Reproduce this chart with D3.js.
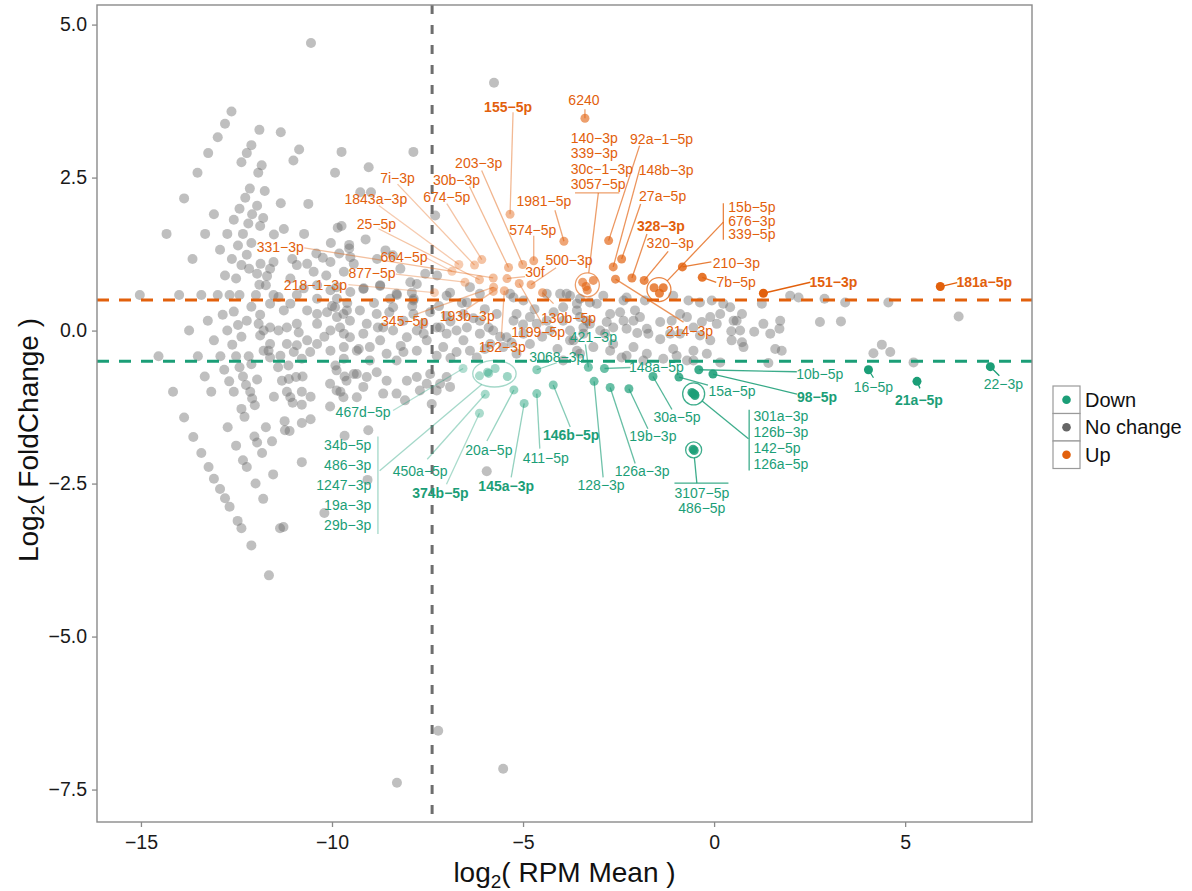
<!DOCTYPE html>
<html>
<head>
<meta charset="utf-8">
<script src="https://cdn.jsdelivr.net/npm/d3@7"></script>
<style>
  html, body { margin: 0; padding: 0; background: #fff; }
  text { font-family: "Liberation Sans", Arial, Helvetica, sans-serif; }
</style>
</head>
<body>
<svg id="chart" width="1192" height="891"></svg>
<script>
// ---- data ----
const xTicks = [-15, -10, -5, 0, 5]
const yTicks = [5, 2.5, 0, -2.5, -5, -7.5]
const foldCut = 0.5        // +/- log2 fold change threshold
const meanCut = -7.38      // log2 RPM mean cut-off
const legendLabels = ['Down', 'No change', 'Up']

// [name, log2 RPM mean, log2 fold change]
const upMiRNA = [
  ['6240', -3.38, 3.47], ['155-5p', -5.34, 1.90], ['1981-5p', -3.93, 1.46], ['574-5p', -4.72, 1.14],
  ['500-3p', -4.79, 0.75], ['30f', -5.42, 0.85], ['203-3p', -5.01, 1.08], ['30b-3p', -5.38, 1.03],
  ['674-5p', -6.08, 1.16], ['7i-3p', -6.27, 1.07], ['1843a-3p', -6.68, 1.08], ['664-5p', -6.86, 0.97],
  ['25-5p', -6.14, 0.83], ['877-5p', -6.52, 0.79], ['331-3p', -5.78, 0.86], ['345-5p', -5.77, 0.71],
  ['193b-3p', -5.78, 0.64], ['152-3p', -5.49, 0.65], ['218-1-3p', -7.32, 0.62], ['1199-5p', -5.10, 0.77],
  ['130b-5p', -4.49, 0.62],
  ['140-3p', -3.44, 0.79], ['339-3p', -3.16, 0.82], ['30c-1-3p', -3.35, 0.72], ['3057-5p', -3.32, 0.66],
  ['92a-1-5p', -2.76, 1.47], ['148b-3p', -2.64, 1.04], ['27a-5p', -2.42, 1.17], ['328-3p', -2.15, 0.86],
  ['320-3p', -1.83, 0.82], ['214-3p', -2.58, 0.84],
  ['15b-5p', -1.57, 0.70], ['676-3p', -1.33, 0.70], ['339-5p', -1.43, 0.61],
  ['210-3p', -0.83, 1.04], ['7b-5p', -0.31, 0.87], ['151-3p', 1.29, 0.61], ['181a-5p', 5.92, 0.72]
]

const downMiRNA = [
  ['467d-5p', -6.57, -0.62],
  ['34b-5p', -6.14, -0.74], ['486-3p', -5.93, -0.68], ['1247-3p', -5.73, -0.62], ['19a-3p', -5.41, -0.75], ['29b-3p', -5.90, -0.70],
  ['450a-5p', -5.99, -1.04], ['374b-5p', -6.14, -1.35], ['20a-5p', -5.24, -0.97], ['145a-3p', -4.97, -1.19],
  ['411-5p', -4.64, -1.03], ['146b-5p', -4.21, -0.89], ['3068-3p', -4.64, -0.64], ['421-3p', -3.29, -0.60],
  ['148a-5p', -2.87, -0.62], ['128-3p', -3.14, -0.83], ['126a-3p', -2.72, -0.93], ['19b-3p', -2.23, -0.95],
  ['30a-5p', -1.60, -0.75], ['15a-5p', -0.92, -0.76], ['10b-5p', -0.40, -0.64], ['98-5p', -0.03, -0.71],
  ['301a-3p', -0.58, -1.01], ['126b-3p', -0.50, -1.06], ['142-5p', -0.55, -1.03], ['126a-5p', -0.51, -1.04],
  ['3107-5p', -0.55, -1.94], ['486-5p', -0.52, -1.96],
  ['16-5p', 4.04, -0.64], ['21a-5p', 5.31, -0.83], ['22-3p', 7.23, -0.59]
]

const boldNames = ['155-5p', '328-3p', '151-3p', '181a-5p', '374b-5p', '145a-3p', '146b-5p', '98-5p', '21a-5p']

// unchanged miRNAs: [log2 RPM mean, log2 fold change]
const grayPoints = [
  [-10.55, 4.70], [-12.63, 3.58], [-12.80, 3.38], [-12.99, 3.16], [-11.90, 3.28], [-11.34, 3.24], [-13.24, 2.90],
  [-12.11, 3.03], [-12.23, 2.90], [-12.37, 2.75], [-11.84, 2.70], [-11.93, 2.58], [-10.86, 2.96], [-11.01, 2.78],
  [-9.75, 2.92], [-7.87, 2.92], [-13.52, 2.58], [-9.92, 2.58], [-9.04, 2.67], [-13.87, 2.16], [-12.15, 2.32],
  [-11.76, 2.28], [-12.27, 2.17], [-11.34, 2.08], [-10.62, 2.07], [-9.26, 2.26], [-8.98, 2.26], [-11.96, 2.04],
  [-12.42, 1.99], [-13.09, 1.90], [-12.09, 1.90], [-11.80, 1.84], [-12.57, 1.81], [-12.19, 1.75], [-11.88, 1.71],
  [-7.30, 1.88], [-14.33, 1.58], [-13.32, 1.58], [-12.74, 1.58], [-12.33, 1.58], [-11.52, 1.57], [-11.26, 1.66],
  [-10.73, 1.58], [-9.85, 1.68], [-9.75, 1.71], [-9.12, 1.49], [-10.03, 1.43], [-9.55, 1.40], [-13.65, 1.17],
  [-12.93, 1.32], [-12.46, 1.39], [-12.11, 1.43], [-12.23, 1.24], [-12.62, 1.17], [-12.37, 1.07], [-11.87, 1.09],
  [-11.53, 1.12], [-11.04, 1.17], [-10.41, 1.26], [-10.24, 1.19], [-10.04, 1.12], [-9.81, 1.26], [-9.55, 1.34],
  [-9.52, 1.20], [-8.82, 1.17], [-8.60, 1.31], [-8.41, 1.23], [-12.80, 0.90], [-12.51, 0.85], [-12.17, 1.01],
  [-11.96, 0.93], [-11.70, 0.89], [-11.62, 1.01], [-10.92, 1.07], [-10.65, 1.09], [-10.48, 0.96], [-10.15, 0.90],
  [-9.69, 0.96], [-9.43, 1.09], [-8.21, 1.01], [-7.95, 0.79], [-7.56, 0.93], [-7.25, 0.90], [-11.90, 0.75],
  [-11.73, 0.74], [-11.09, 0.85], [-10.74, 0.69], [-10.39, 0.74], [-10.04, 0.66], [-9.52, 0.63], [-9.17, 0.69],
  [-8.74, 0.74], [-15.03, 0.58], [-14.00, 0.58], [-13.42, 0.58], [-12.99, 0.58], [-12.68, 0.58], [-12.42, 0.58],
  [-11.99, 0.58], [-11.53, 0.58], [-11.40, 0.55], [-10.92, 0.58], [-10.39, 0.52], [-9.87, 0.52], [-8.30, 0.58],
  [-7.86, 0.52],
  [-12.11, 0.39], [-11.88, 0.26], [-12.86, 0.26], [-12.57, 0.31], [-13.25, 0.16], [-12.23, 0.16], [-12.46, 0.09],
  [-13.74, 0.00], [-12.74, 0.00], [-12.37, -0.10], [-13.09, -0.16], [-12.61, -0.23], [-11.92, 0.11], [-11.79, 0.00],
  [-11.62, 0.05], [-11.40, 0.00], [-11.88, -0.08], [-11.18, 0.05], [-10.92, 0.11], [-10.87, -0.03], [-10.65, 0.33],
  [-10.39, 0.27], [-10.13, 0.30], [-9.87, 0.22], [-9.61, 0.33], [-11.26, 0.33], [-11.62, 0.44], [-11.09, 0.44],
  [-10.39, 0.11], [-10.04, 0.00], [-9.69, -0.05], [-10.65, -0.16], [-10.39, -0.22], [-10.04, -0.33], [-9.69, -0.27],
  [-11.62, -0.22], [-11.66, -0.33], [-11.18, -0.22], [-10.92, -0.24], [-11.00, -0.35], [-10.57, -0.35], [-11.35, -0.41],
  [-11.79, -0.33], [-14.54, -0.42], [-13.51, -0.42], [-12.92, -0.42], [-12.51, -0.42], [-12.18, -0.42], [-11.62, -0.44],
  [-10.79, -0.46], [-9.69, -0.46],
  [-12.82, -0.64], [-12.42, -0.60], [-12.11, -0.55], [-11.41, -0.60], [-11.14, -0.57], [-9.91, -0.57], [-9.43, -0.71],
  [-13.33, -0.75], [-12.33, -0.75], [-11.96, -0.80], [-12.69, -0.83], [-11.31, -0.82], [-11.13, -0.79], [-10.94, -0.76],
  [-10.77, -0.75], [-10.05, -0.87], [-9.67, -0.75], [-14.16, -1.00], [-13.16, -1.00], [-12.57, -1.00], [-12.25, -0.89],
  [-12.14, -1.00], [-11.18, -1.00], [-10.79, -1.00], [-9.78, -1.00], [-11.52, -1.08], [-11.09, -1.09], [-10.56, -1.08],
  [-12.09, -1.11], [-12.02, -1.22], [-11.03, -1.18], [-10.79, -1.21], [-10.05, -1.24], [-12.37, -1.28], [-12.29, -1.41],
  [-13.87, -1.42], [-11.24, -1.48], [-10.56, -1.45], [-10.79, -1.51], [-12.73, -1.58], [-11.73, -1.58], [-11.11, -1.64],
  [-13.63, -1.74], [-12.03, -1.73], [-11.96, -1.83], [-11.57, -1.81], [-9.67, -1.72], [-12.51, -1.88], [-13.42, -2.00],
  [-11.83, -2.00], [-12.33, -2.12], [-12.23, -2.23], [-10.79, -2.15], [-13.23, -2.23], [-11.54, -2.35], [-13.09, -2.42],
  [-12.00, -2.50], [-12.93, -2.59], [-12.80, -2.74], [-11.80, -2.75], [-12.68, -2.88], [-10.20, -2.98], [-12.47, -3.11],
  [-12.37, -3.23], [-11.36, -3.23], [-12.11, -3.51], [-11.65, -4.00],
  [-9.62, -0.82], [-9.35, -0.71], [-9.09, -0.76], [-8.83, -0.68], [-8.57, -0.82], [-8.31, -1.03], [-8.09, -1.14],
  [-7.78, -0.76], [-7.52, -0.87], [-7.39, -1.20], [-7.26, -0.98], [-7.00, -0.76], [-6.91, -0.92], [-9.05, -1.63],
  [-9.07, -2.44], [-5.95, -2.30], [-11.27, -3.21], [-11.23, -1.63],
  [-5.76, 4.05], [-7.22, -6.54], [-8.30, -7.39], [-5.52, -7.16],
  [-9.88, 0.71], [-9.18, 0.68], [-8.74, 0.73], [-8.31, 0.60], [-7.91, 0.62], [-7.78, 0.76], [-6.91, 0.62],
  [-6.39, 0.71], [-6.13, 0.60], [-5.34, 0.60], [-4.03, 0.60], [-3.77, 0.57],
  [-9.92, 0.38], [-9.70, 0.27], [-9.79, 0.05], [-9.53, 0.16], [-9.27, 0.33], [-9.09, 0.11], [-9.18, -0.05],
  [-8.83, 0.27], [-8.66, 0.05], [-8.74, -0.16], [-8.40, 0.00], [-8.13, 0.16], [-8.04, -0.11], [-7.78, 0.00],
  [-7.61, 0.11], [-7.52, -0.16], [-7.26, 0.05], [-7.00, -0.05], [-7.09, -0.27], [-6.74, 0.00], [-6.56, -0.16],
  [-6.39, -0.33], [-6.13, -0.05], [-5.86, -0.22], [-6.21, -0.44], [-5.52, -0.27], [-5.43, -0.11], [-5.17, -0.38],
  [-4.82, -0.22], [-4.64, 0.11], [-4.29, 0.00], [-3.95, 0.16], [-3.77, -0.16], [-3.42, 0.05], [-3.59, -0.33],
  [-9.35, -0.33], [-9.01, -0.27], [-8.57, -0.38], [-8.13, -0.35], [-7.78, -0.33], [-7.26, -0.41], [-6.74, -0.35],
  [-9.53, -0.11], [-9.01, -0.49], [-8.31, -0.49], [-7.87, 0.27], [-7.43, 0.30], [-7.00, 0.24], [-6.56, 0.27],
  [-8.40, 0.38], [-5.17, 0.27], [-4.82, 0.22], [-3.95, 0.38], [-3.59, 0.33],
  [-9.88, -0.65], [-9.88, -0.98], [-9.18, -0.92], [-8.04, -0.82], [-7.70, -0.98], [-7.43, -0.71], [-7.17, -0.87],
  [-8.66, -1.03], [-9.35, -1.09], [-9.70, -1.09],
  [-8.90, 0.45], [-8.50, 0.30], [-8.20, -0.25], [-7.90, 0.40], [-7.60, -0.05], [-7.20, 0.40], [-6.90, 0.15],
  [-6.60, 0.45], [-6.30, 0.20], [-6.00, 0.35], [-5.90, 0.05], [-5.60, -0.10], [-5.30, -0.20], [-5.00, 0.10],
  [-4.70, 0.35], [-4.50, -0.10], [-4.20, 0.30], [-4.10, -0.30], [-6.90, -0.45], [-6.00, -0.30], [-9.30, -0.30],
  [-8.80, 0.05], [-10.20, -0.10], [-10.00, 0.40], [-9.60, 0.45],
  [1.99, 0.57], [2.21, 0.54], [2.89, 0.52], [3.43, 0.46], [4.56, 0.46], [1.25, 0.44], [-3.86, 0.60],
  [-3.51, 0.52], [-2.90, 0.57], [-2.29, 0.54], [-1.07, 0.57], [-0.37, 0.46], [-0.06, 0.49], [0.24, 0.44],
  [6.40, 0.23], [2.77, 0.14], [3.32, 0.15], [1.73, 0.16], [1.71, 0.03], [1.29, 0.11], [1.05, -0.02],
  [1.47, -0.05], [0.73, 0.27], [0.51, 0.16], [0.45, -0.01], [0.16, 0.27], [0.07, 0.11], [-0.10, 0.22],
  [-0.32, 0.14], [-0.54, 0.05], [-0.71, 0.22], [-0.89, 0.27], [-1.11, 0.16], [-1.41, 0.14], [-1.41, -0.14],
  [-1.15, -0.05], [-1.72, -0.05], [-2.01, -0.04], [-2.29, 0.03], [-2.37, 0.16], [-2.07, 0.33], [-1.94, 0.22],
  [-2.46, 0.30], [-2.72, 0.27], [-2.81, 0.14], [-2.98, 0.00], [-3.25, 0.11], [-3.51, 0.22], [-3.77, 0.00],
  [0.73, -0.19], [0.77, -0.27], [1.60, -0.30], [1.77, -0.33], [4.17, -0.37], [4.39, -0.23], [4.61, -0.35],
  [5.22, -0.52], [1.42, -0.53], [0.16, -0.52], [-0.54, -0.49], [-0.98, -0.41], [-1.85, -0.49], [-2.29, -0.41],
  [-3.16, -0.27], [-2.72, -0.33], [-3.51, -0.38], [-3.68, -0.16], [-3.95, -0.49],
  [-2.11, 0.16], [-1.76, 0.03], [0.42, 0.38], [0.59, 0.16], [0.68, 0.00], [-0.67, 0.49], [-1.81, 0.49],
  [-2.37, 0.49], [-3.07, 0.44], [-3.33, 0.16], [-3.42, -0.05], [-2.85, -0.05], [-2.64, 0.05], [-0.89, -0.05],
  [0.46, -0.16], [-1.33, -0.46], [-0.71, -0.49], [-2.64, -0.22], [-2.11, -0.27], [-1.76, -0.38], [-1.07, -0.30],
  [-0.54, -0.33], [-0.19, -0.38], [-2.42, -0.44], [-0.37, -0.08], [-0.10, -0.16],
  [-4.38, 0.60], [-3.59, 0.44], [-3.25, 0.46], [-4.99, 0.49], [-5.25, 0.54], [-6.47, 0.46], [-7.00, 0.57],
  [-7.87, 0.49], [-8.48, 0.52], [-6.13, 0.16], [-5.69, 0.27], [-5.25, 0.16], [-4.38, 0.16], [-7.17, 0.05],
  [-6.47, 0.05], [-5.78, 0.00], [-4.99, -0.05]
]

// ---- label layout (pixel offsets from each point: text dx, dy, leader end dx, dy) ----
const labelAt = {
  '6240': [-1, -18, 0, -9], '155-5p': [-2, -107, 3, -102], '1981-5p': [-20, -40, -9, -31],
  '574-5p': [-1, -31, 0, -25], '500-3p': [38, -25, 25, -17], '30f': [28, -6, 18, -2],
  '203-3p': [-44, -101, -41, -94], '30b-3p': [-52, -87, -39, -81], '674-5p': [-35, -62, -35, -56],
  '7i-3p': [-77, -87, -77, -81], '1843a-3p': [-83, -65, -80, -59], '25-5p': [-103, -56, -101, -51],
  '664-5p': [-48, -14, -25, -13], '877-5p': [-93, -9, -69, -8], '331-3p': [-213, -31, -189, -30],
  '218-1-3p': [-119, -8, -86, -8], '345-5p': [-89, 34, -80, 28], '193b-3p': [-26, 25, -27, 18],
  '152-3p': [-2, 56, -3, 47], '1199-5p': [19, 49, 24, 42], '130b-5p': [26, 25, 11, 11],
  '92a-1-5p': [53, -102, 31, -95], '148b-3p': [53, -97, 27, -100], '27a-5p': [41, -63, 19, -55],
  '328-3p': [29, -52, 15, -44], '320-3p': [26, -37, 24, -29], '214-3p': [74, 52, 68, 43],
  '210-3p': [54, -4, 29, -5], '7b-5p': [34, 5, 14, 5], '151-3p': [70, -11, 47, -11], '181a-5p': [44, -4, 17, -4],
  '467d-5p': [-100, 44, -70, 42], '450a-5p': [-65, 77, -58, 65], '374b-5p': [-39, 80, -33, 71],
  '20a-5p': [-25, 60, -27, 51], '145a-3p': [-18, 83, -13, 74], '411-5p': [9, 64, 3, 55],
  '146b-5p': [18, 50, 17, 42], '3068-3p': [20, -13, 20, -7], '421-3p': [5, -30, -3, -23],
  '148a-5p': [52, -1, 26, -1], '128-3p': [7, 104, 9, 96], '126a-3p': [32, 84, 25, 76],
  '19b-3p': [24, 47, 19, 40], '30a-5p': [24, 41, 19, 33], '15a-5p': [53, 14, 29, 8],
  '10b-5p': [121, 4, 98, 2], '98-5p': [104, 23, 84, 20], '16-5p': [5, 17, 5, 8],
  '21a-5p': [2, 19, 3, 7], '22-3p': [13, 17, 9, 9]
}

// overlapping points: ring, stacked names, rule, leader (offsets from centroid)
const groups = [
  { members: ['140-3p', '339-3p', '30c-1-3p', '3057-5p'], rx: 12, ry: 12,
    text: [-16.6, -146.5, 15.2, 'start'], rule: ['h', -91.9, -12.3, 32], link: [11, -91.9] },
  { members: ['15b-5p', '676-3p', '339-5p'], rx: 12, ry: 12,
    text: [69.4, -82.4, 13.7, 'start'], rule: ['v', 64.4, -86.4, -49.8], link: [64.4, -67.4] },
  { members: ['34b-5p', '486-3p', '1247-3p', '19a-3p', '29b-3p'], rx: 21.7, ry: 13.3, shift: [2.8, 0.4],
    text: [-123.2, 71.1, 20, 'end'], rule: ['v', -116.5, 62.8, 160.4], link: [-114.8, 97.1] },
  { members: ['301a-3p', '126b-3p', '142-5p', '126a-5p'], rx: 11, ry: 11,
    text: [59.8, 21.8, 16, 'start'], rule: ['v', 55.5, 15.8, 76.5], link: [54.8, 44.8] },
  { members: ['3107-5p', '486-5p'], rx: 8, ry: 8,
    text: [8.2, 42.8, 15.4, 'middle'], rule: ['h', 33.2, -19.2, 34.8], link: [3.2, 33.2] }
]

// ---- drawing ----
const FONT = '"Liberation Sans", Arial, Helvetica, sans-serif'
const orange = '#e2600c'
const green = '#1b9e77'
const grey = '#666666'
const panel = { left: 97, right: 1032, top: 5, bottom: 822 }

const svg = d3.select('#chart')
svg.append('rect').attr('width', 1192).attr('height', 891).attr('fill', '#fff')

const x = d3.scaleLinear().domain([-16.15, 8.32]).range([panel.left, panel.right])
const y = d3.scaleLinear().domain([-8.03, 5.32]).range([panel.bottom, panel.top])
const alpha = d3.scaleLinear().domain([-7, 1.3]).range([0.3, 1]).clamp(true)
const dash = name => name.replace(/-/g, '\u2212')

svg.append('clipPath').attr('id', 'clip').append('rect')
  .attr('x', panel.left).attr('y', panel.top)
  .attr('width', panel.right - panel.left).attr('height', panel.bottom - panel.top)

const plot = svg.append('g').attr('clip-path', 'url(#clip)')

// unchanged points
plot.append('g').selectAll('circle').data(grayPoints).join('circle')
  .attr('cx', d => x(d[0])).attr('cy', d => y(d[1])).attr('r', 5)
  .attr('fill', grey).attr('fill-opacity', 0.42)

// threshold lines
plot.append('line')
  .attr('x1', panel.left).attr('x2', panel.right).attr('y1', y(foldCut)).attr('y2', y(foldCut))
  .attr('stroke', orange).attr('stroke-width', 3).attr('stroke-dasharray', '12,10')
plot.append('line')
  .attr('x1', panel.left).attr('x2', panel.right).attr('y1', y(-foldCut)).attr('y2', y(-foldCut))
  .attr('stroke', green).attr('stroke-width', 3).attr('stroke-dasharray', '12,10')
plot.append('line')
  .attr('x1', x(meanCut)).attr('x2', x(meanCut)).attr('y1', panel.top).attr('y2', panel.bottom)
  .attr('stroke', '#6e6e6e').attr('stroke-width', 3).attr('stroke-dasharray', '9,11')

const sig = upMiRNA.map(d => ({ name: d[0], mean: d[1], fc: d[2], col: orange }))
  .concat(downMiRNA.map(d => ({ name: d[0], mean: d[1], fc: d[2], col: green })))
sig.forEach(d => { d.px = x(d.mean); d.py = y(d.fc); d.a = alpha(d.mean) })
const byName = new Map(sig.map(d => [d.name, d]))

const ann = svg.append('g')

// single labels: leader lines
const singles = sig.filter(d => labelAt[d.name])
ann.append('g').selectAll('line').data(singles).join('line')
  .attr('x1', d => d.px).attr('y1', d => d.py)
  .attr('x2', d => d.px + labelAt[d.name][2]).attr('y2', d => d.py + labelAt[d.name][3])
  .attr('stroke', d => d.col).attr('stroke-opacity', d => d.a).attr('stroke-width', 1.3)

// groups: ring, rule, leader
groups.forEach(g => {
  const pts = g.members.map(n => byName.get(n))
  const cx = d3.mean(pts, p => p.px) + (g.shift ? g.shift[0] : 0)
  const cy = d3.mean(pts, p => p.py) + (g.shift ? g.shift[1] : 0)
  const col = pts[0].col
  const a = alpha(d3.mean(pts, p => p.mean))
  const gg = ann.append('g').attr('stroke', col).attr('stroke-opacity', a).attr('stroke-width', 1.3).attr('fill', 'none')
  gg.append('ellipse').attr('cx', cx).attr('cy', cy).attr('rx', g.rx).attr('ry', g.ry)
  const r = g.rule
  if (r[0] === 'h') {
    gg.append('line').attr('x1', cx + r[2]).attr('x2', cx + r[3]).attr('y1', cy + r[1]).attr('y2', cy + r[1])
  } else {
    gg.append('line').attr('x1', cx + r[1]).attr('x2', cx + r[1]).attr('y1', cy + r[2]).attr('y2', cy + r[3])
  }
  const [lx, ly] = g.link
  const t = 1 / Math.sqrt((lx / g.rx) ** 2 + (ly / g.ry) ** 2)
  gg.append('line').attr('x1', cx + lx).attr('y1', cy + ly).attr('x2', cx + lx * t).attr('y2', cy + ly * t)

  const [tx, ty, step, anchor] = g.text
  ann.append('g').selectAll('text').data(g.members).join('text')
    .attr('x', cx + tx).attr('y', (d, i) => cy + ty + i * step).attr('dy', '0.35em')
    .attr('text-anchor', anchor).attr('font-size', 14).attr('fill', col)
    .attr('font-weight', d => boldNames.includes(d) ? 'bold' : 'normal')
    .text(dash)
})

// significant points on top
svg.append('g').selectAll('circle').data(sig).join('circle')
  .attr('cx', d => d.px).attr('cy', d => d.py).attr('r', 4.5)
  .attr('fill', d => d.col).attr('fill-opacity', d => d.a)

// single labels: text
ann.append('g').selectAll('text').data(singles).join('text')
  .attr('x', d => d.px + labelAt[d.name][0]).attr('y', d => d.py + labelAt[d.name][1]).attr('dy', '0.35em')
  .attr('text-anchor', 'middle').attr('font-size', 14).attr('fill', d => d.col)
  .attr('font-weight', d => boldNames.includes(d.name) ? 'bold' : 'normal')
  .text(d => dash(d.name))

// panel border
svg.append('rect')
  .attr('x', panel.left).attr('y', panel.top)
  .attr('width', panel.right - panel.left).attr('height', panel.bottom - panel.top)
  .attr('fill', 'none').attr('stroke', '#8a8a8a').attr('stroke-width', 1.4)

// axes
const xAxis = svg.append('g').attr('transform', `translate(0,${panel.bottom})`)
  .call(d3.axisBottom(x).tickValues(xTicks).tickSize(5).tickPadding(8))
const yAxis = svg.append('g').attr('transform', `translate(${panel.left},0)`)
  .call(d3.axisLeft(y).tickValues(yTicks).tickFormat(d3.format('.1f')).tickSize(5).tickPadding(5))
;[xAxis, yAxis].forEach(ax => {
  ax.select('.domain').remove()
  ax.attr('font-family', FONT).attr('font-size', 19.5)
  ax.selectAll('line').attr('stroke', '#8a8a8a').attr('stroke-width', 1.3)
  ax.selectAll('text').attr('fill', '#1a1a1a')
})

// axis titles
const xt = svg.append('text').attr('x', (panel.left + panel.right) / 2).attr('y', 882)
  .attr('text-anchor', 'middle').attr('font-size', 28).attr('fill', '#111')
xt.append('tspan').text('log')
xt.append('tspan').attr('font-size', 19).attr('dy', 6).text('2')
xt.append('tspan').attr('dy', -6).text('( RPM Mean )')

const yt = svg.append('text')
  .attr('transform', 'translate(38,440) rotate(-90)')
  .attr('text-anchor', 'middle').attr('font-size', 28).attr('fill', '#111')
yt.append('tspan').text('Log')
yt.append('tspan').attr('font-size', 19).attr('dy', 6).text('2')
yt.append('tspan').attr('dy', -6).text('( FoldChange )')

// legend
const legendColors = [green, grey, orange]
const lg = svg.append('g').attr('transform', 'translate(1053,386)')
const rows = lg.selectAll('g').data(legendLabels).join('g')
  .attr('transform', (d, i) => `translate(0,${i * 27.5})`)
rows.append('rect').attr('width', 27).attr('height', 27.5)
  .attr('fill', '#fff').attr('stroke', '#9a9a9a').attr('stroke-width', 1.2)
rows.append('circle').attr('cx', 13.5).attr('cy', 13.75).attr('r', 4.3)
  .attr('fill', (d, i) => legendColors[i])
rows.append('text').attr('x', 32).attr('y', 13.75).attr('dy', '0.35em')
  .attr('font-size', 20).attr('fill', '#111').text(d => d)
</script>
</body>
</html>
